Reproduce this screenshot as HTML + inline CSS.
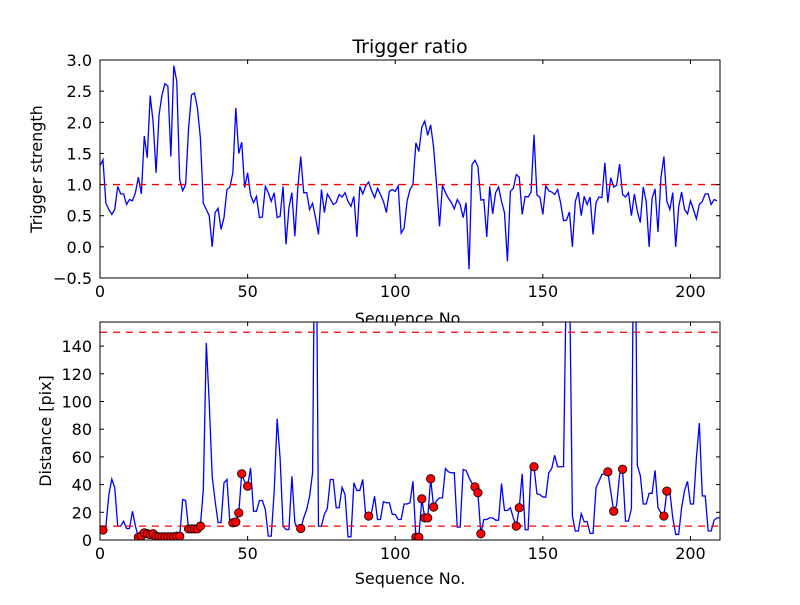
<!DOCTYPE html>
<html><head><meta charset="utf-8"><style>
html,body{margin:0;padding:0;background:#fff;}
svg text{font-family:"DejaVu Sans","Liberation Sans",sans-serif;fill:#000;}
</style></head><body>
<svg id="chart" width="800" height="600" viewBox="0 0 800 600" xmlns="http://www.w3.org/2000/svg">
<rect width="800" height="600" fill="#fff"/>
<defs>
<clipPath id="clipTop"><rect x="100" y="60" width="620" height="218"/></clipPath>
<clipPath id="clipBot"><rect x="100" y="322" width="620" height="218"/></clipPath>
</defs>
<g id="top"></g>
<g id="bot"></g>
</svg>
<script>
const topValues = [1.3,1.4,0.7,0.6,0.52,0.6,0.97,0.85,0.85,0.68,0.76,0.74,0.87,1.12,0.85,1.78,1.43,2.43,2.0,1.19,2.12,2.44,2.62,2.58,1.45,2.91,2.66,1.08,0.9,1.0,1.9,2.44,2.47,2.23,1.75,0.7,0.6,0.5,0.0,0.55,0.62,0.28,0.47,0.92,0.96,1.19,2.23,1.5,1.68,0.95,1.19,0.83,0.71,
0.81,0.47,0.48,0.97,0.87,0.73,0.87,0.47,0.49,0.97,0.04,0.63,0.87,0.17,0.95,1.45,0.87,0.87,0.6,0.7,0.47,0.2,0.92,0.55,0.85,0.77,0.68,0.71,0.84,0.8,0.87,0.73,0.65,0.81,0.16,0.97,0.85,0.98,1.04,0.9,0.79,0.94,0.84,0.73,0.55,0.89,0.92,0.89,0.98,0.22,0.3,
0.73,0.92,1.0,1.67,1.53,1.92,2.02,1.79,1.96,1.59,1.0,0.33,0.99,0.87,0.78,0.71,0.61,0.76,0.68,0.47,0.71,-0.36,1.32,1.39,1.29,0.75,0.76,0.16,0.97,0.53,0.87,0.96,0.73,0.55,-0.23,0.89,0.94,1.16,1.12,0.52,0.81,0.8,0.88,1.8,0.83,0.8,0.52,0.98,0.9,0.88,0.84,0.92,
0.71,0.42,0.43,0.56,0.0,0.73,0.88,0.5,0.81,0.68,0.8,0.2,0.71,0.8,0.79,1.35,0.71,1.11,0.96,0.99,1.33,0.84,0.8,0.87,0.5,0.85,0.57,0.39,0.96,0.73,0.0,0.78,0.93,0.24,1.11,1.45,0.73,0.6,0.87,0.0,0.64,0.88,0.6,0.53,0.74,0.6,0.45,0.68,0.73,0.85,0.85,0.68,0.76,0.74];
const botStart = 1;
const botValues = [7.2,10,32.8,44,37.7,10,10,13.6,8.3,8.3,20.8,10,2,3,5.2,4.5,4,4.5,2.5,2.3,2.3,2.3,2.3,2.3,2.3,2.7,2.7,29.2,28.5,8,8,8,8,10,36.5,142.3,99,46,28,12.6,12.6,41.3,43.7,12.4,12.4,13,19.6,47.8,42,38.9,52,20.8,
20.8,28.5,28.5,22,2.8,2.8,35,87.5,59,10,7.6,7.6,46,12.4,8.3,8.3,16,22,31.6,48.5,300,10,10,18.5,22.8,43.7,43.7,23.3,23.3,38,32.8,2.3,2.3,41.3,35.8,35.8,43.7,17.3,17.3,20,31.6,14.8,14.8,27.6,26.9,26.9,18.5,18.5,14.8,14.8,26,26,
26.9,42.4,2,2,29.7,16,16,44.2,23.8,28.5,30.4,30.4,51.6,49.2,48.5,48.5,9.3,9.3,50.9,50.2,45,41,38.4,34.1,4.5,14.8,14.8,16,16,14.3,14.3,40.8,21.3,21.3,23.3,16,10,23.3,47.8,7.4,7.4,52,52.9,33.4,32.8,31,31,48.5,51.6,61.2,52.9,52.9,53,200,200,
17.3,6.5,6.5,19,13.2,13.2,4.8,4.8,37.7,42.4,47.3,47.8,49.2,35,20.8,25.2,47.3,51.1,13.6,13.6,22.8,300,53.8,46.6,26,26,33.7,33.7,50.2,23.3,19.6,17.3,35.3,35,16,4,4,23.3,35.8,42.4,26,26,59,84.4,31.8,31.8,6.5,6.5,14.3,16,16];
const dotIdx = [1,13,14,15,16,17,18,19,20,21,22,23,24,25,26,27,30,31,32,33,34,45,46,47,48,50,68,91,107,108,109,110,111,112,113,127,128,129,141,142,147,172,174,177,191,192];
const xTicks = [0,50,100,150,200];
const topTicks = [-0.5,0.0,0.5,1.0,1.5,2.0,2.5,3.0];
const topTickLabels = ["\u22120.5","0.0","0.5","1.0","1.5","2.0","2.5","3.0"];
const botTicks = [0,20,40,60,80,100,120,140];
const topThreshold = [1.0];
const botThresholds = [10,150];

const NS="http://www.w3.org/2000/svg";
const L=100,R=720,W=620,XMAX=210;
const xs=i=>L+i/XMAX*W;
const yT=v=>60+(3.0-v)/3.5*218;
const yB=v=>540-v/157.4*218;
function mk(tag,attrs,parent){const e=document.createElementNS(NS,tag);for(const k in attrs)e.setAttribute(k,attrs[k]);parent.appendChild(e);return e;}

function axes(g,top,bottom,yticks,ylabels,yf,ylabel,name){
  const box=mk('rect',{x:L,y:top,width:W,height:bottom-top,fill:'#fff',stroke:'none'},g);
  
  
  return box;
}
function frame(g,top,bottom,yticks,ylabels,yf,ylabel,name){
  mk('rect',{x:L,y:top,width:W,height:bottom-top,fill:'none',stroke:'#000','stroke-width':1},g);
  xTicks.forEach(t=>{const x=xs(t);
    mk('line',{x1:x,y1:bottom,x2:x,y2:bottom-4,stroke:'#000'},g);
    mk('line',{x1:x,y1:top,x2:x,y2:top+4,stroke:'#000'},g);
    const tx=mk('text',{x:x,y:bottom+19,'text-anchor':'middle','font-size':'16'},g);tx.textContent=String(t);
    
    
  });
  yticks.forEach((t,k)=>{const y=yf(t);
    mk('line',{x1:L,y1:y,x2:L+4,y2:y,stroke:'#000'},g);
    mk('line',{x1:R,y1:y,x2:R-4,y2:y,stroke:'#000'},g);
    const tx=mk('text',{x:92,y:y+6,'text-anchor':'end','font-size':'16'},g);tx.textContent=ylabels[k];
    
    
  });
  const yl=mk('text',{x:0,y:0,'text-anchor':'middle','font-size':'16',transform:`translate(${name==='top'?42:51},${(top+bottom)/2}) rotate(-90)`},g);
  yl.textContent=ylabel;
  
  
}

const gT=document.getElementById('top'), gB=document.getElementById('bot');





// top panel
axes(gT,60,278,topTicks,topTickLabels,yT,'Trigger strength','top');
const tl=mk('path',{d:topValues.map((v,i)=>(i?'L':'M')+xs(i).toFixed(2)+','+yT(v).toFixed(2)).join(''),fill:'none',stroke:'#0000ff','stroke-width':1.3,'clip-path':'url(#clipTop)'},gT);


topThreshold.forEach(v=>{const l=mk('line',{x1:L,x2:R,y1:yT(v),y2:yT(v),stroke:'#ff0000','stroke-width':1.3,'stroke-dasharray':'7,6'},gT);
  
  });
frame(gT,60,278,topTicks,topTickLabels,yT,'Trigger strength','top');
const ttl=mk('text',{x:410,y:53,'text-anchor':'middle','font-size':'19'},gT);ttl.textContent='Trigger ratio';


const xl1=mk('text',{x:410,y:324,'text-anchor':'middle','font-size':'16'},gT);xl1.textContent='Sequence No.';



// bottom panel
axes(gB,322,540,botTicks,botTicks.map(String),yB,'Distance [pix]','bot');
const bl=mk('path',{d:botValues.map((v,i)=>(i?'L':'M')+xs(i+botStart).toFixed(2)+','+yB(v).toFixed(2)).join(''),fill:'none',stroke:'#0000ff','stroke-width':1.3,'clip-path':'url(#clipBot)'},gB);


botThresholds.forEach(v=>{const l=mk('line',{x1:L,x2:R,y1:yB(v),y2:yB(v),stroke:'#ff0000','stroke-width':1.3,'stroke-dasharray':'7,6'},gB);
  
  });
dotIdx.forEach(i=>{const v=botValues[i-botStart];
  const c=mk('circle',{cx:xs(i),cy:yB(v),r:4.2,fill:'#ff0000',stroke:'#000','stroke-width':0.8,'clip-path':'url(#clipBot)'},gB);
  
  });
frame(gB,322,540,botTicks,botTicks.map(String),yB,'Distance [pix]','bot');
const xl2=mk('text',{x:410,y:584,'text-anchor':'middle','font-size':'16'},gB);xl2.textContent='Sequence No.';


</script>
</body></html>
